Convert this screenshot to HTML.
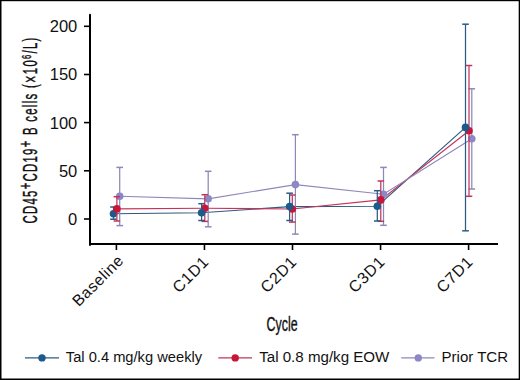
<!DOCTYPE html>
<html><head><meta charset="utf-8"><style>
html,body{margin:0;padding:0;background:#fff;}
body{width:520px;height:380px;overflow:hidden;}
svg{display:block;}
text{font-family:"Liberation Sans",sans-serif;fill:#111;}
.tl{font-size:16.5px;}
.xl{font-size:16px;}
.ttl{font-size:19.5px;}
.yt{stroke:#111;stroke-width:0.4px;}
.lg{font-size:15.2px;}
</style></head><body>
<svg width="520" height="380" viewBox="0 0 520 380">
<rect x="0" y="0" width="520" height="380" fill="#fff"/>
<rect x="0" y="0" width="520" height="1.2" fill="#000"/><rect x="0" y="378.5" width="520" height="1.5" fill="#000"/><rect x="0" y="0" width="1.5" height="380" fill="#000"/><rect x="518.7" y="0" width="1.3" height="380" fill="#000"/>
<line x1="90" y1="14.8" x2="90" y2="245" stroke="#000" stroke-width="2" stroke-linecap="round"/>
<line x1="89" y1="244" x2="498" y2="244" stroke="#000" stroke-width="2"/>
<line x1="84" y1="219.0" x2="90" y2="219.0" stroke="#000" stroke-width="1.6"/>
<text x="77.3" y="224.9" text-anchor="end" class="tl">0</text>
<line x1="84" y1="170.8" x2="90" y2="170.8" stroke="#000" stroke-width="1.6"/>
<text x="77.3" y="176.7" text-anchor="end" class="tl">50</text>
<line x1="84" y1="122.6" x2="90" y2="122.6" stroke="#000" stroke-width="1.6"/>
<text x="77.3" y="128.5" text-anchor="end" class="tl">100</text>
<line x1="84" y1="74.5" x2="90" y2="74.5" stroke="#000" stroke-width="1.6"/>
<text x="77.3" y="80.4" text-anchor="end" class="tl">150</text>
<line x1="84" y1="26.3" x2="90" y2="26.3" stroke="#000" stroke-width="1.6"/>
<text x="77.3" y="32.2" text-anchor="end" class="tl">200</text>
<line x1="116.4" y1="244" x2="116.4" y2="250" stroke="#000" stroke-width="1.6"/>
<text transform="translate(124.20000000000002,261.90000000000003) rotate(-45)" text-anchor="end" class="xl" style="font-size:15.8px" textLength="64.2">Baseline</text>
<line x1="204.45" y1="244" x2="204.45" y2="250" stroke="#000" stroke-width="1.6"/>
<text transform="translate(209.35,263.3) rotate(-45)" text-anchor="end" class="xl" textLength="43">C1D1</text>
<line x1="292.5" y1="244" x2="292.5" y2="250" stroke="#000" stroke-width="1.6"/>
<text transform="translate(297.4,263.3) rotate(-45)" text-anchor="end" class="xl" textLength="43">C2D1</text>
<line x1="380.54999999999995" y1="244" x2="380.54999999999995" y2="250" stroke="#000" stroke-width="1.6"/>
<text transform="translate(385.44999999999993,263.3) rotate(-45)" text-anchor="end" class="xl" textLength="43">C3D1</text>
<line x1="468.6" y1="244" x2="468.6" y2="250" stroke="#000" stroke-width="1.6"/>
<text transform="translate(473.5,263.3) rotate(-45)" text-anchor="end" class="xl" textLength="43">C7D1</text>
<path d="M113.5,213.8 L201.6,212.8 L289.6,206.6 L377.3,206.3 L465.5,127.4" fill="none" stroke="#2c5b80" stroke-width="1.15"/>
<path d="M116.9,208.9 L204.8,208.2 L292.3,209.0 L380.8,199.9 L469.0,130.7" fill="none" stroke="#c4345a" stroke-width="1.15"/>
<path d="M119.7,196.3 L208.2,198.8 L295.4,184.6 L383.5,194.2 L471.8,138.8" fill="none" stroke="#8c89b9" stroke-width="1.15"/>
<line x1="119.7" y1="167.4" x2="119.7" y2="225.6" stroke="#8c89b9" stroke-width="1.25"/>
<line x1="116.4" y1="167.4" x2="123.0" y2="167.4" stroke="#8c89b9" stroke-width="1.5"/>
<line x1="116.4" y1="225.6" x2="123.0" y2="225.6" stroke="#8c89b9" stroke-width="1.5"/>
<circle cx="119.7" cy="196.3" r="3.8" fill="#8d87c6"/>
<line x1="113.5" y1="207.0" x2="113.5" y2="219.2" stroke="#2c5b80" stroke-width="1.25"/>
<line x1="110.2" y1="207.0" x2="116.8" y2="207.0" stroke="#2c5b80" stroke-width="1.5"/>
<line x1="110.2" y1="219.2" x2="116.8" y2="219.2" stroke="#2c5b80" stroke-width="1.5"/>
<circle cx="113.5" cy="213.8" r="3.8" fill="#1d5a8c"/>
<line x1="116.9" y1="196.7" x2="116.9" y2="221.0" stroke="#c4345a" stroke-width="1.25"/>
<line x1="113.60000000000001" y1="196.7" x2="120.2" y2="196.7" stroke="#c4345a" stroke-width="1.5"/>
<line x1="113.60000000000001" y1="221.0" x2="120.2" y2="221.0" stroke="#c4345a" stroke-width="1.5"/>
<circle cx="116.9" cy="208.9" r="3.8" fill="#c8153a"/>
<line x1="208.2" y1="171.3" x2="208.2" y2="226.8" stroke="#8c89b9" stroke-width="1.25"/>
<line x1="204.89999999999998" y1="171.3" x2="211.5" y2="171.3" stroke="#8c89b9" stroke-width="1.5"/>
<line x1="204.89999999999998" y1="226.8" x2="211.5" y2="226.8" stroke="#8c89b9" stroke-width="1.5"/>
<circle cx="208.2" cy="198.8" r="3.8" fill="#8d87c6"/>
<line x1="204.8" y1="194.7" x2="204.8" y2="221.4" stroke="#c4345a" stroke-width="1.25"/>
<line x1="201.5" y1="194.7" x2="208.10000000000002" y2="194.7" stroke="#c4345a" stroke-width="1.5"/>
<line x1="201.5" y1="221.4" x2="208.10000000000002" y2="221.4" stroke="#c4345a" stroke-width="1.5"/>
<circle cx="204.8" cy="208.2" r="3.8" fill="#c8153a"/>
<line x1="201.6" y1="203.7" x2="201.6" y2="220.5" stroke="#2c5b80" stroke-width="1.25"/>
<line x1="198.29999999999998" y1="203.7" x2="204.9" y2="203.7" stroke="#2c5b80" stroke-width="1.5"/>
<line x1="198.29999999999998" y1="220.5" x2="204.9" y2="220.5" stroke="#2c5b80" stroke-width="1.5"/>
<circle cx="201.6" cy="212.8" r="3.8" fill="#1d5a8c"/>
<line x1="295.4" y1="134.7" x2="295.4" y2="234.1" stroke="#8c89b9" stroke-width="1.25"/>
<line x1="292.09999999999997" y1="134.7" x2="298.7" y2="134.7" stroke="#8c89b9" stroke-width="1.5"/>
<line x1="292.09999999999997" y1="234.1" x2="298.7" y2="234.1" stroke="#8c89b9" stroke-width="1.5"/>
<circle cx="295.4" cy="184.6" r="3.8" fill="#8d87c6"/>
<line x1="292.3" y1="195.0" x2="292.3" y2="222.1" stroke="#c4345a" stroke-width="1.25"/>
<line x1="289.0" y1="195.0" x2="295.6" y2="195.0" stroke="#c4345a" stroke-width="1.5"/>
<line x1="289.0" y1="222.1" x2="295.6" y2="222.1" stroke="#c4345a" stroke-width="1.5"/>
<circle cx="292.3" cy="209.0" r="3.8" fill="#c8153a"/>
<line x1="289.6" y1="193.2" x2="289.6" y2="220.5" stroke="#2c5b80" stroke-width="1.25"/>
<line x1="286.3" y1="193.2" x2="292.90000000000003" y2="193.2" stroke="#2c5b80" stroke-width="1.5"/>
<line x1="286.3" y1="220.5" x2="292.90000000000003" y2="220.5" stroke="#2c5b80" stroke-width="1.5"/>
<circle cx="289.6" cy="206.6" r="3.8" fill="#1d5a8c"/>
<line x1="383.5" y1="167.4" x2="383.5" y2="225.3" stroke="#8c89b9" stroke-width="1.25"/>
<line x1="380.2" y1="167.4" x2="386.8" y2="167.4" stroke="#8c89b9" stroke-width="1.5"/>
<line x1="380.2" y1="225.3" x2="386.8" y2="225.3" stroke="#8c89b9" stroke-width="1.5"/>
<circle cx="383.5" cy="194.2" r="3.8" fill="#8d87c6"/>
<line x1="380.8" y1="181.0" x2="380.8" y2="221.3" stroke="#c4345a" stroke-width="1.25"/>
<line x1="377.5" y1="181.0" x2="384.1" y2="181.0" stroke="#c4345a" stroke-width="1.5"/>
<line x1="377.5" y1="221.3" x2="384.1" y2="221.3" stroke="#c4345a" stroke-width="1.5"/>
<circle cx="380.8" cy="199.9" r="3.8" fill="#c8153a"/>
<line x1="377.3" y1="190.7" x2="377.3" y2="221.0" stroke="#2c5b80" stroke-width="1.25"/>
<line x1="374.0" y1="190.7" x2="380.6" y2="190.7" stroke="#2c5b80" stroke-width="1.5"/>
<line x1="374.0" y1="221.0" x2="380.6" y2="221.0" stroke="#2c5b80" stroke-width="1.5"/>
<circle cx="377.3" cy="206.3" r="3.8" fill="#1d5a8c"/>
<line x1="471.8" y1="88.8" x2="471.8" y2="189.0" stroke="#8c89b9" stroke-width="1.25"/>
<line x1="468.5" y1="88.8" x2="475.1" y2="88.8" stroke="#8c89b9" stroke-width="1.5"/>
<line x1="468.5" y1="189.0" x2="475.1" y2="189.0" stroke="#8c89b9" stroke-width="1.5"/>
<circle cx="471.8" cy="138.8" r="3.8" fill="#8d87c6"/>
<line x1="469.0" y1="65.5" x2="469.0" y2="196.3" stroke="#c4345a" stroke-width="1.25"/>
<line x1="465.7" y1="65.5" x2="472.3" y2="65.5" stroke="#c4345a" stroke-width="1.5"/>
<line x1="465.7" y1="196.3" x2="472.3" y2="196.3" stroke="#c4345a" stroke-width="1.5"/>
<circle cx="469.0" cy="130.7" r="3.8" fill="#c8153a"/>
<line x1="465.5" y1="24.2" x2="465.5" y2="230.8" stroke="#2c5b80" stroke-width="1.25"/>
<line x1="462.2" y1="24.2" x2="468.8" y2="24.2" stroke="#2c5b80" stroke-width="1.5"/>
<line x1="462.2" y1="230.8" x2="468.8" y2="230.8" stroke="#2c5b80" stroke-width="1.5"/>
<circle cx="465.5" cy="127.4" r="3.8" fill="#1d5a8c"/>
<text x="266.6" y="330.9" textLength="31" lengthAdjust="spacingAndGlyphs" class="ttl yt">Cycle</text>
<text transform="translate(37.1,223.6) rotate(-90) scale(0.585,1)" textLength="317.9" class="ttl yt">CD45<tspan dy="-5.6" font-size="19" style="stroke-width:0.5px">+</tspan><tspan dy="5.6">CD19</tspan><tspan dy="-5.6" font-size="19" style="stroke-width:0.5px">+</tspan><tspan dy="5.6"> B cells (</tspan><tspan font-size="22" dy="0.8">×</tspan><tspan dy="-0.8">10</tspan><tspan dy="-6.3" font-size="13">6</tspan><tspan dy="6.3">/L)</tspan></text>
<line x1="25" y1="357.9" x2="59" y2="357.9" stroke="#2c5b80" stroke-width="1.3"/><circle cx="42" cy="357.9" r="3.7" fill="#1d5a8c"/><text x="65.8" y="362.2" textLength="136.3" lengthAdjust="spacingAndGlyphs" class="lg">Tal 0.4 mg/kg weekly</text>
<line x1="218.3" y1="357.9" x2="252" y2="357.9" stroke="#c4345a" stroke-width="1.3"/><circle cx="235.2" cy="357.9" r="3.7" fill="#c8153a"/><text x="259.2" y="362.2" textLength="130.2" lengthAdjust="spacingAndGlyphs" class="lg">Tal 0.8 mg/kg EOW</text>
<line x1="401.3" y1="357.9" x2="434.5" y2="357.9" stroke="#8c89b9" stroke-width="1.3"/><circle cx="418.3" cy="357.9" r="3.7" fill="#8d87c6"/><text x="441.5" y="362.2" textLength="66.6" lengthAdjust="spacingAndGlyphs" class="lg">Prior TCR</text>
</svg>
</body></html>
